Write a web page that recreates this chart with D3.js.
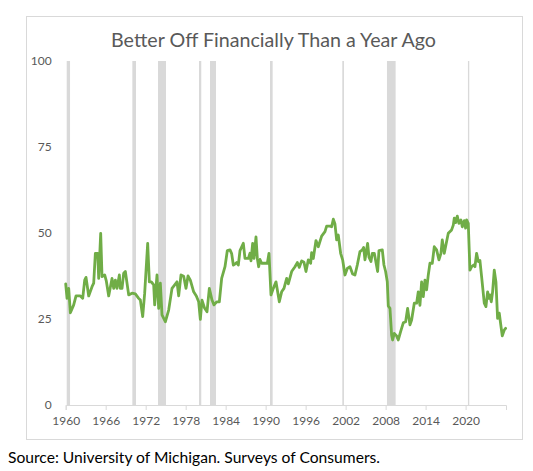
<!DOCTYPE html>
<html>
<head>
<meta charset="utf-8">
<script src="https://cdn.jsdelivr.net/npm/d3@7"></script>
<style>
  html, body { margin: 0; padding: 0; background: #ffffff; }
  svg { display: block; }
  text { font-family: Lato, "Open Sans", "Liberation Sans", sans-serif; }
</style>
</head>
<body>
<svg id="chart" width="533" height="471"></svg>
<script>
// ---- data ----
const title = "Better Off Financially Than a Year Ago";
const source = "Source: University of Michigan. Surveys of Consumers.";

const years = [
  1960.0,1960.2,1960.45,1960.7,1961.2,1961.55,1962.2,1962.55,1962.85,1963.05,
  1963.45,1963.95,1964.2,1964.45,1964.8,1964.95,1965.25,1965.45,1965.85,1966.1,
  1966.45,1966.95,1967.2,1967.45,1967.7,1968.05,1968.2,1968.45,1968.7,1968.95,
  1969.45,1969.95,1970.45,1970.95,1971.2,1971.55,1971.85,1972.3,1972.55,1972.85,
  1973.2,1973.35,1973.7,1973.95,1974.2,1974.45,1974.95,1975.45,1975.95,1976.7,
  1976.95,1977.3,1977.7,1978.05,1978.35,1978.7,1979.2,1979.6,1979.95,1980.2,
  1980.45,1980.85,1981.2,1981.55,1981.95,1982.25,1982.65,1983.05,1983.4,1983.9,
  1984.25,1984.65,1984.9,1985.15,1985.4,1985.65,1985.9,1986.15,1986.65,1986.9,
  1987.4,1987.65,1987.8,1988.05,1988.25,1988.55,1988.75,1988.95,1989.15,1989.4,
  1990.25,1990.5,1990.8,1991.15,1991.55,1992.05,1992.4,1992.75,1993.15,1993.4,
  1993.9,1994.4,1994.75,1995.05,1995.4,1995.75,1996.05,1996.4,1996.75,1996.9,
  1997.15,1997.55,1997.9,1998.4,1998.9,1999.15,1999.65,1999.9,2000.15,2000.4,
  2000.65,2000.9,2001.25,2001.55,2001.9,2002.25,2002.65,2003.05,2003.4,2003.75,
  2004.15,2004.5,2004.7,2004.9,2005.3,2005.5,2005.8,2006.0,2006.3,2006.5,
  2006.8,2007.0,2007.5,2007.75,2008.0,2008.25,2008.4,2008.65,2008.9,2009.05,
  2009.3,2009.65,2009.9,2010.25,2010.65,2011.0,2011.3,2011.65,2011.9,2012.3,
  2012.65,2012.9,2013.15,2013.4,2013.65,2013.9,2014.15,2014.4,2014.65,2015.0,
  2015.3,2015.65,2016.0,2016.3,2016.5,2016.8,2017.15,2017.4,2017.9,2018.15,
  2018.3,2018.5,2018.75,2019.0,2019.3,2019.5,2019.8,2020.0,2020.15,2020.4,
  2020.65,2020.9,2021.2,2021.4,2021.65,2021.9,2022.15,2022.4,2022.8,2023.05,
  2023.3,2023.5,2023.65,2023.85,2024.05,2024.3,2024.55,2024.8,2025.05,2025.25,
  2025.5,2025.8,2026.0
];
const values = [
  35.2,31.0,33.9,26.8,29.1,31.7,31.7,31.0,36.3,37.1,
  31.7,34.4,35.4,44.1,44.1,36.8,49.9,37.3,37.8,36.0,
  31.7,36.8,33.9,36.3,33.9,37.8,33.9,33.9,38.3,38.8,
  32.0,32.5,32.3,31.0,30.5,25.7,32.5,47.0,35.8,35.8,
  34.9,29.1,37.8,28.1,35.4,26.2,24.2,27.6,33.9,35.8,
  31.7,37.8,37.4,33.9,37.5,36.3,32.9,31.7,30.0,24.9,
  30.5,28.1,27.1,33.9,30.5,29.1,30.0,30.0,36.8,40.2,
  44.9,45.1,44.0,40.7,41.0,41.4,40.7,44.9,47.0,42.6,
  42.6,44.1,41.9,47.0,42.6,48.9,42.6,40.2,42.3,41.2,
  41.2,44.1,32.0,33.9,35.8,30.0,32.9,33.9,36.8,35.2,
  38.8,40.2,41.4,40.0,41.9,41.5,38.8,42.2,41.2,44.3,
  42.6,47.8,46.0,49.1,50.4,52.0,52.0,51.8,54.0,52.6,
  48.0,49.4,44.1,42.2,37.8,39.7,40.2,38.1,37.8,40.7,
  44.6,45.1,45.8,42.2,47.0,43.0,41.7,44.1,44.1,42.0,
  38.8,44.9,45.1,40.7,38.8,35.8,28.8,28.1,20.3,18.9,
  20.8,20.1,18.9,21.3,23.9,24.2,28.1,23.3,24.7,29.6,
  29.6,32.9,29.0,35.8,31.5,36.3,33.5,37.8,41.2,41.2,
  46.0,45.1,42.2,44.1,48.0,44.1,47.5,49.9,50.9,52.3,
  54.3,53.0,54.9,52.8,53.8,51.8,53.6,51.4,53.8,52.8,
  39.2,40.2,40.7,40.2,44.1,41.7,42.0,37.3,29.6,28.6,
  32.9,31.0,32.0,30.0,32.9,39.2,35.8,25.2,26.7,23.7,
  20.1,21.8,22.3
];

// recession periods (shaded)
const recStart = [1960.15,1970.0,1973.85,1980.0,1981.65,1990.65,2001.5,2008.2,2020.35];
const recEnd   = [1960.65,1970.55,1975.05,1980.34,1982.55,1991.05,2001.75,2009.5,2020.55];

const xTicks = [1960,1966,1972,1978,1984,1990,1996,2002,2008,2014,2020];
const yTicks = [0,25,50,75,100];

// ---- drawing ----
const svg = d3.select("#chart");
const W = 533, H = 471;
const plot = { left: 65.7, right: 506, top: 61, bottom: 405 };

const x = d3.scaleLinear().domain([1960, 2026.06]).range([plot.left, plot.right]);
const y = d3.scaleLinear().domain([0, 100]).range([plot.bottom, plot.top]);

svg.append("rect").attr("x", 0).attr("y", 0).attr("width", W).attr("height", H).attr("fill", "#fff");

// chart area border
svg.append("rect")
  .attr("x", 26.5).attr("y", 16.5).attr("width", 496).attr("height", 423)
  .attr("fill", "none").attr("stroke", "#d9d9d9").attr("stroke-width", 1);

// title
svg.append("text")
  .attr("x", 273.5).attr("y", 47)
  .attr("text-anchor", "middle")
  .attr("font-size", 18.7)
  .attr("fill", "#595959")
  .attr("textLength", 325).attr("lengthAdjust", "spacingAndGlyphs")
  .text(title);

// recession bars
const recs = recStart.map((s, i) => ({ s, e: recEnd[i] }));
svg.append("g").selectAll("rect").data(recs).join("rect")
  .attr("x", d => x(d.s))
  .attr("width", d => Math.max(1.3, x(d.e) - x(d.s)))
  .attr("y", y(100))
  .attr("height", y(0) - y(100))
  .attr("fill", "#d9d9d9");

// x axis
const xAxis = d3.axisBottom(x).tickValues(xTicks).tickFormat(d3.format("d")).tickSize(5).tickPadding(6);
const gx = svg.append("g").attr("transform", `translate(0,${plot.bottom})`).call(xAxis);
gx.select(".domain").attr("stroke", "#d9d9d9").attr("stroke-width", 1);
gx.selectAll(".tick line").attr("stroke", "#d9d9d9");
gx.selectAll(".tick text").attr("fill", "#595959").attr("font-size", 12)
  .attr("font-family", "Lato, 'Open Sans', sans-serif");

// y axis (labels only)
const yAxis = d3.axisLeft(y).tickValues(yTicks).tickSize(0).tickPadding(14);
const gy = svg.append("g").attr("transform", `translate(${plot.left},0)`).call(yAxis);
gy.select(".domain").remove();
gy.selectAll(".tick text").attr("fill", "#595959").attr("font-size", 12)
  .attr("font-family", "Lato, 'Open Sans', sans-serif");

// line
const pts = years.map((t, i) => ({ t, v: values[i] }));
const line = d3.line().x(d => x(d.t)).y(d => y(d.v));
svg.append("path")
  .datum(pts)
  .attr("d", line)
  .attr("fill", "none")
  .attr("stroke", "#70ad47")
  .attr("stroke-width", 2.8)
  .attr("stroke-linejoin", "round")
  .attr("stroke-linecap", "round");

// source note
svg.append("text")
  .attr("x", 8).attr("y", 463)
  .attr("font-size", 14.7)
  .attr("fill", "#000")
  .attr("textLength", 372).attr("lengthAdjust", "spacingAndGlyphs")
  .text(source);
</script>
</body>
</html>
